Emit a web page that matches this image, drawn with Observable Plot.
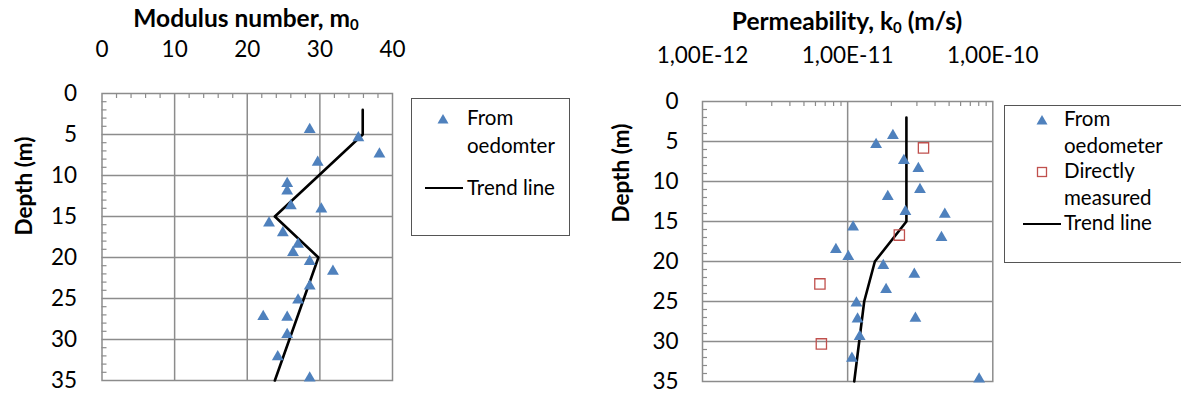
<!DOCTYPE html>
<html><head><meta charset="utf-8">
<script src="https://cdn.jsdelivr.net/npm/d3@7"></script>
<script src="https://cdn.jsdelivr.net/npm/@observablehq/plot@0.6"></script>
<style>
body{margin:0;background:#fff;font-family:Lato,sans-serif;color:#000;}
#wrap{position:relative;width:1181px;height:394px;overflow:hidden;}
#wrap svg{position:absolute;top:0;}
.abs{position:absolute;white-space:nowrap;}
.title{font-weight:bold;font-size:24.5px;line-height:24.5px;transform:translateX(-50%);}
.title sub{font-size:15px;line-height:0;vertical-align:-3px;}
.legend{border:1.5px solid #555;box-sizing:border-box;background:#fff;}
.lt{font-size:20.5px;line-height:20.5px;}
</style></head><body><div id="wrap"></div>
<script>
// ---- data ----
const depthTicks = [0, 5, 10, 15, 20, 25, 30, 35];
const modulusTicks = [0, 10, 20, 30, 40];
const permTicks = [1e-12, 1e-11, 1e-10];

// Modulus number from oedometer
const modDepth = [4.4, 5.4, 7.4, 8.4, 11.0, 11.9, 13.7, 14.1, 15.8, 17.0, 18.4, 19.4, 20.5, 21.7, 23.5, 25.2, 27.2, 27.3, 29.4, 32.1, 34.7];
const modValue = [28.6, 35.3, 38.2, 29.7, 25.5, 25.5, 26.0, 30.2, 23.0, 24.9, 27.0, 26.3, 28.6, 31.8, 28.6, 27.0, 22.2, 25.5, 25.5, 24.2, 28.6];
// Modulus trend line
const modTrendDepth = [2, 5, 15, 20, 35];
const modTrendValue = [35.9, 35.9, 23.8, 29.8, 23.8];

// Permeability from oedometer
const permDepth = [4.25, 5.4, 7.4, 8.4, 11.0, 11.9, 13.75, 14.1, 15.7, 17.0, 18.5, 19.4, 20.5, 21.6, 23.5, 25.2, 27.2, 27.1, 29.4, 32.1, 34.7];
const permValue = [2.05e-11, 1.57e-11, 2.44e-11, 3.07e-11, 3.15e-11, 1.89e-11, 2.5e-11, 4.67e-11, 1.09e-11, 4.43e-11, 8.3e-12, 1.01e-11, 1.76e-11, 2.88e-11, 1.84e-11, 1.15e-11, 1.17e-11, 2.93e-11, 1.21e-11, 1.07e-11, 8.05e-11];
// Permeability directly measured
const directDepth = [5.8, 16.7, 22.8, 30.3];
const directValue = [3.33e-11, 2.27e-11, 6.44e-12, 6.59e-12];
// Permeability trend line
const permTrendDepth = [2, 15, 20, 25, 35];
const permTrendValue = [2.54e-11, 2.54e-11, 1.54e-11, 1.30e-11, 1.11e-11];

// ---- tables ----
const modPts = modDepth.map((d, i) => ({depth: d, m: modValue[i]}));
const modTrend = modTrendDepth.map((d, i) => ({depth: d, m: modTrendValue[i]}));
const permPts = permDepth.map((d, i) => ({depth: d, k: permValue[i]}));
const directPts = directDepth.map((d, i) => ({depth: d, k: directValue[i]}));
const permTrend = permTrendDepth.map((d, i) => ({depth: d, k: permTrendValue[i]}));

const gridColor = "#8c8c8c";
const blue = "#4f81bd", red = "#c0504d";
const minorDepth = d3.range(1, 35).filter(d => d % 5 !== 0);
const minorMod = d3.range(2, 40, 2).filter(d => d % 10 !== 0);
const minorPerm = [];
for (const e of [-12, -11]) for (let m = 2; m <= 9; m++) minorPerm.push(m * Math.pow(10, e));

const fontStyle = {fontFamily: "Lato, sans-serif", fontSize: "22.5px", color: "#000", background: "transparent", overflow: "visible"};

// ---- left chart ----
const L = {w: 590, h: 394, t: 93, b: 14, l: 101.5, r: 198};
const leftPlot = Plot.plot({
  width: L.w, height: L.h, marginTop: L.t, marginBottom: L.b, marginLeft: L.l, marginRight: L.r,
  style: fontStyle,
  x: {domain: [0, 40]},
  y: {domain: [0, 35], reverse: true},
  marks: [
    Plot.gridX([10, 20, 30], {stroke: gridColor, strokeOpacity: 1, strokeWidth: 1.5}),
    Plot.gridY([5, 10, 15, 20, 25, 30], {stroke: gridColor, strokeOpacity: 1, strokeWidth: 1.5}),
    Plot.tickX(minorMod, {x: d => d, insetBottom: (L.h - L.t - L.b) - 5, stroke: gridColor, strokeWidth: 1.2}),
    Plot.tickY(minorDepth, {y: d => d, insetRight: (L.w - L.l - L.r) - 5, stroke: gridColor, strokeWidth: 1.2}),
    Plot.frame({stroke: gridColor, strokeWidth: 1.5}),
    Plot.axisX(modulusTicks, {anchor: "top", tickSize: 0, tickPadding: 37, label: null}),
    Plot.axisY(depthTicks, {anchor: "left", tickSize: 0, tickPadding: 25, label: null}),
    Plot.line(modTrend, {x: "m", y: "depth", stroke: "#000", strokeWidth: 2.6}),
    Plot.dot(modPts, {x: "m", y: "depth", symbol: "triangle", r: 4.4, fill: blue, stroke: null}),
    Plot.text(["Depth (m)"], {frameAnchor: "left", rotate: -90, dx: 24 - L.l, dy: -1.5, fontWeight: "bold", fontSize: 22.5})
  ]
});
leftPlot.style.left = "0px";

// ---- right chart ----
const R = {w: 591, h: 394, t: 101, b: 13, l: 112, r: 188.7};
const rightPlot = Plot.plot({
  width: R.w, height: R.h, marginTop: R.t, marginBottom: R.b, marginLeft: R.l, marginRight: R.r,
  style: fontStyle,
  x: {type: "log", domain: [1e-12, 1e-10]},
  y: {domain: [0, 35], reverse: true},
  marks: [
    Plot.gridX([1e-11], {stroke: gridColor, strokeOpacity: 1, strokeWidth: 1.5}),
    Plot.gridY([5, 10, 15, 20, 25, 30], {stroke: gridColor, strokeOpacity: 1, strokeWidth: 1.5}),
    Plot.tickX(minorPerm, {x: d => d, insetBottom: (R.h - R.t - R.b) - 5, stroke: gridColor, strokeWidth: 1.2}),
    Plot.tickY(minorDepth, {y: d => d, insetRight: (R.w - R.l - R.r) - 5, stroke: gridColor, strokeWidth: 1.2}),
    Plot.frame({stroke: gridColor, strokeWidth: 1.5}),
    Plot.axisX(permTicks, {anchor: "top", tickSize: 0, tickPadding: 39, label: null,
      tickFormat: d => "1,00E" + Math.round(Math.log10(d))}),
    Plot.axisY(depthTicks, {anchor: "left", tickSize: 0, tickPadding: 24, label: null}),
    Plot.line(permTrend, {x: "k", y: "depth", stroke: "#000", strokeWidth: 2.6}),
    Plot.dot(permPts, {x: "k", y: "depth", symbol: "triangle", r: 4.4, fill: blue, stroke: null}),
    Plot.dot(directPts, {x: "k", y: "depth", symbol: "square", r: 5.8, fill: "none", stroke: red, strokeWidth: 1.3}),
    Plot.text(["Depth (m)"], {frameAnchor: "left", rotate: -90, dx: 31 - R.l, dy: -19, fontWeight: "bold", fontSize: 22.5})
  ]
});
rightPlot.style.left = "590px";

const wrap = document.getElementById("wrap");
wrap.append(leftPlot, rightPlot);

// ---- titles & legends (HTML overlay) ----
function add(html, cls, css) {
  const d = document.createElement("div");
  d.className = "abs " + cls;
  d.innerHTML = html;
  Object.assign(d.style, css);
  wrap.append(d);
  return d;
}
add("Modulus number, m<sub>0</sub>", "title", {left: "246px", top: "5.5px"});
add("Permeability, k<sub>0</sub> (m/s)", "title", {left: "847px", top: "8.5px"});

const tri = (cx, cy) => `<svg class="abs" style="left:${cx - 6}px;top:${cy - 6}px" width="12" height="12"><path d="M6,1L11.5,10.5L0.5,10.5Z" fill="${blue}"/></svg>`;
const sq = (cx, cy) => `<svg class="abs" style="left:${cx - 6}px;top:${cy - 6}px" width="12" height="12"><rect x="1.5" y="1.5" width="9" height="9" fill="none" stroke="${red}" stroke-width="1.3"/></svg>`;
const ln = (x1, x2, y) => `<div class="abs" style="left:${x1}px;top:${y - 1.3}px;width:${x2 - x1}px;height:2.6px;background:#000"></div>`;

// left legend
add("", "legend", {left: "411px", top: "98px", width: "159px", height: "138px"});
wrap.insertAdjacentHTML("beforeend", tri(443, 119) + ln(425, 463, 188));
add("From", "lt", {left: "467px", top: "106.8px"});
add("oedomter", "lt", {left: "467px", top: "134.8px"});
add("Trend line", "lt", {left: "467px", top: "176.8px"});

// right legend
add("", "legend", {left: "1004px", top: "105px", width: "200px", height: "158px"});
wrap.insertAdjacentHTML("beforeend", tri(1042, 120) + sq(1042, 172) + ln(1023, 1061, 224));
add("From", "lt", {left: "1064px", top: "107.5px"});
add("oedometer", "lt", {left: "1064px", top: "135.1px"});
add("Directly", "lt", {left: "1064px", top: "159.5px"});
add("measured", "lt", {left: "1064px", top: "186.8px"});
add("Trend line", "lt", {left: "1064px", top: "211.8px"});
</script></body></html>
